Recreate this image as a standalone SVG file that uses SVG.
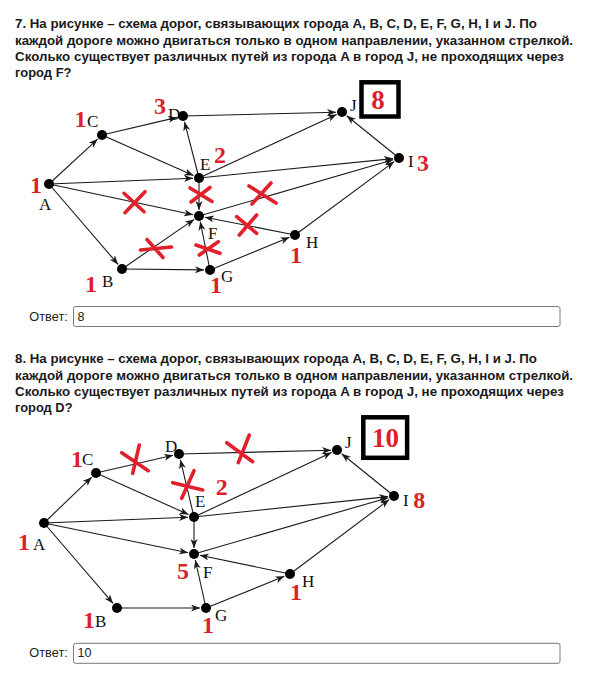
<svg xmlns="http://www.w3.org/2000/svg" width="597" height="679" viewBox="0 0 597 679">
<defs>
<marker id="ah" markerUnits="userSpaceOnUse" markerWidth="10" markerHeight="8" refX="9" refY="3.5" orient="auto">
<path d="M0,0 L9,3.5 L0,7 L2.5,3.5 z" fill="#1a1a1a"/>
</marker>
</defs>
<style>
.q{font-family:"Liberation Sans",Arial,sans-serif;font-weight:bold;font-size:13.5px;fill:#1a1a1a}
.ans{font-family:"Liberation Sans",Arial,sans-serif;font-size:12.5px;fill:#222}
.box{fill:#fff;stroke:#7a7a7a;stroke-width:1}
.e{stroke:#1a1a1a;stroke-width:1.1;fill:none;marker-end:url(#ah)}
.n{fill:#000}
.lb{font-family:"Liberation Serif","Times New Roman",serif;font-size:17px;fill:#111}
.r{font-family:"Liberation Serif","Times New Roman",serif;font-weight:bold;font-size:24px;fill:#dc1f2b;text-anchor:middle}
.rb{font-family:"Liberation Serif","Times New Roman",serif;font-weight:bold;font-size:27px;fill:#dc1f2b;text-anchor:middle}
.x{stroke:#e0202b;stroke-width:3.6;stroke-linecap:round;fill:none}
.frame{fill:#fff;stroke:#000;stroke-width:4.5}
</style>
<rect width="597" height="679" fill="#fff"/>

<g id="question7">
<text class="q" x="15" y="28.3" textLength="522" lengthAdjust="spacingAndGlyphs">7. На рисунке – схема дорог, связывающих города A, B, C, D, E, F, G, H, I и J. По</text>
<text class="q" x="15" y="44.6" textLength="558" lengthAdjust="spacingAndGlyphs">каждой дороге можно двигаться только в одном направлении, указанном стрелкой.</text>
<text class="q" x="15" y="61" textLength="549" lengthAdjust="spacingAndGlyphs">Сколько существует различных путей из города A в город J, не проходящих через</text>
<text class="q" x="15" y="77.3" textLength="56.5" lengthAdjust="spacingAndGlyphs">город F?</text>
</g>

<g id="diagram1-connectors">
<line class="e" x1="49" y1="184" x2="97.6" y2="139.1"/>
<line class="e" x1="49" y1="184" x2="193" y2="178.2"/>
<line class="e" x1="49" y1="184" x2="193.1" y2="214.7"/>
<line class="e" x1="49" y1="184" x2="118.1" y2="264.4"/>
<line class="e" x1="102" y1="135" x2="177.2" y2="117.4"/>
<line class="e" x1="102" y1="135" x2="193.5" y2="175.6"/>
<line class="e" x1="199" y1="178" x2="184.5" y2="121.8"/>
<line class="e" x1="199" y1="178" x2="336.6" y2="114.5"/>
<line class="e" x1="199" y1="178" x2="393" y2="158.6"/>
<line class="e" x1="199" y1="178" x2="199" y2="210"/>
<line class="e" x1="183" y1="116" x2="336" y2="112.2"/>
<line class="e" x1="122" y1="269" x2="194.1" y2="219.4"/>
<line class="e" x1="122" y1="269" x2="204" y2="269.9"/>
<line class="e" x1="210" y1="270" x2="200.2" y2="221.5"/>
<line class="e" x1="210" y1="270" x2="289.5" y2="237.3"/>
<line class="e" x1="295" y1="235" x2="204.9" y2="217.2"/>
<line class="e" x1="199" y1="216" x2="393.2" y2="159.7"/>
<line class="e" x1="295" y1="235" x2="394.2" y2="161.6"/>
<line class="e" x1="399" y1="158" x2="346.7" y2="115.8"/>
</g>

<g id="d1-A"><circle class="n" cx="49" cy="184" r="5"/><text class="lb" x="39" y="210">A</text><text class="r" x="36" y="192.7">1</text></g>
<g id="d1-B"><circle class="n" cx="122" cy="269" r="5"/><text class="lb" x="102" y="287">B</text><text class="r" x="91" y="291.7">1</text></g>
<g id="d1-C"><circle class="n" cx="102" cy="135" r="5"/><text class="lb" x="87" y="127">C</text><text class="r" x="80.5" y="126.7">1</text></g>
<g id="d1-D"><circle class="n" cx="183" cy="116" r="5"/><text class="lb" x="168" y="120">D</text><text class="r" x="160" y="114.3">3</text></g>
<g id="d1-E"><circle class="n" cx="199" cy="178" r="5"/><text class="lb" x="200" y="170">E</text><text class="r" x="220" y="163.3">2</text></g>
<g id="d1-F"><circle class="n" cx="199" cy="216" r="5"/><text class="lb" x="208" y="239">F</text></g>
<g id="d1-G"><circle class="n" cx="210" cy="270" r="5"/><text class="lb" x="221" y="282">G</text><text class="r" x="216" y="293.3">1</text></g>
<g id="d1-H"><circle class="n" cx="295" cy="235" r="5"/><text class="lb" x="306" y="248">H</text><text class="r" x="296" y="263.3">1</text></g>
<g id="d1-I"><circle class="n" cx="399" cy="158" r="5"/><text class="lb" x="408" y="167">I</text><text class="r" x="423" y="170.7">3</text></g>
<g id="d1-J"><circle class="n" cx="342" cy="112" r="5"/><text class="lb" x="350" y="111">J</text></g>
<g id="d1-answer"><rect class="frame" x="361.5" y="82.3" width="37" height="34.2"/><text class="rb" x="378" y="109.3">8</text></g>

<g id="d1-crosses">
<path class="x" d="M124,193.3 L144,211.7 M145,191.7 L125,212.7"/>
<path class="x" d="M190,188 L212,201.5 M191,202 L210,187.5"/>
<path class="x" d="M249,186 L276,203 M252,204 L271,183"/>
<path class="x" d="M236.7,216.7 L256.7,233.3 M256.7,215 L239.3,235"/>
<path class="x" d="M140.5,250 L171.5,247 M147,239.5 L163,257.5"/>
<path class="x" d="M196,245 L220,253.3 M199.3,255 L218.3,241.7"/>
</g>

<g id="answer7">
<text class="ans" x="29.3" y="321" textLength="38.5" lengthAdjust="spacingAndGlyphs">Ответ:</text>
<rect class="box" x="73.5" y="306.5" width="486.5" height="20" rx="2"/>
<text class="ans" x="77.5" y="321">8</text>
</g>

<g id="question8">
<text class="q" x="15" y="363.3" textLength="522" lengthAdjust="spacingAndGlyphs">8. На рисунке – схема дорог, связывающих города A, B, C, D, E, F, G, H, I и J. По</text>
<text class="q" x="15" y="379.7" textLength="558" lengthAdjust="spacingAndGlyphs">каждой дороге можно двигаться только в одном направлении, указанном стрелкой.</text>
<text class="q" x="15" y="396" textLength="549" lengthAdjust="spacingAndGlyphs">Сколько существует различных путей из города A в город J, не проходящих через</text>
<text class="q" x="15" y="412.3" textLength="57.5" lengthAdjust="spacingAndGlyphs">город D?</text>
</g>

<g id="diagram2-connectors">
<line class="e" x1="44" y1="523" x2="91.7" y2="477.2"/>
<line class="e" x1="44" y1="523" x2="188" y2="517.2"/>
<line class="e" x1="44" y1="523" x2="188.1" y2="552.8"/>
<line class="e" x1="44" y1="523" x2="113.1" y2="603.4"/>
<line class="e" x1="96" y1="473" x2="173.1" y2="455.3"/>
<line class="e" x1="96" y1="473" x2="188.5" y2="514.5"/>
<line class="e" x1="194" y1="517" x2="180.4" y2="459.8"/>
<line class="e" x1="194" y1="517" x2="331.6" y2="452.5"/>
<line class="e" x1="194" y1="517" x2="388" y2="496.6"/>
<line class="e" x1="194" y1="517" x2="194" y2="548"/>
<line class="e" x1="179" y1="454" x2="331" y2="450.2"/>
<line class="e" x1="117" y1="608" x2="200" y2="608"/>
<line class="e" x1="206" y1="608" x2="195.3" y2="560"/>
<line class="e" x1="206" y1="608" x2="284.4" y2="576.3"/>
<line class="e" x1="290" y1="574" x2="199.9" y2="555.2"/>
<line class="e" x1="194" y1="554" x2="388.2" y2="497.7"/>
<line class="e" x1="290" y1="574" x2="389.2" y2="499.6"/>
<line class="e" x1="394" y1="496" x2="341.7" y2="453.8"/>
</g>

<g id="d2-A"><circle class="n" cx="44" cy="523" r="5"/><text class="lb" x="33" y="550">A</text><text class="r" x="24" y="550">1</text></g>
<g id="d2-B"><circle class="n" cx="117" cy="608" r="5"/><text class="lb" x="95" y="627">B</text><text class="r" x="89" y="628.3">1</text></g>
<g id="d2-C"><circle class="n" cx="96" cy="473" r="5"/><text class="lb" x="82" y="465">C</text><text class="r" x="77" y="466.7">1</text></g>
<g id="d2-D"><circle class="n" cx="179" cy="454" r="5"/><text class="lb" x="165" y="452">D</text></g>
<g id="d2-E"><circle class="n" cx="194" cy="517" r="5"/><text class="lb" x="195" y="507">E</text><text class="r" x="221.7" y="495">2</text></g>
<g id="d2-F"><circle class="n" cx="194" cy="554" r="5"/><text class="lb" x="203" y="578">F</text><text class="r" x="183" y="579.3">5</text></g>
<g id="d2-G"><circle class="n" cx="206" cy="608" r="5"/><text class="lb" x="215" y="621">G</text><text class="r" x="208" y="633.3">1</text></g>
<g id="d2-H"><circle class="n" cx="290" cy="574" r="5"/><text class="lb" x="302" y="587">H</text><text class="r" x="296" y="600">1</text></g>
<g id="d2-I"><circle class="n" cx="394" cy="496" r="5"/><text class="lb" x="403" y="506">I</text><text class="r" x="419.3" y="508.3">8</text></g>
<g id="d2-J"><circle class="n" cx="337" cy="450" r="5"/><text class="lb" x="345" y="448">J</text></g>
<g id="d2-answer"><rect class="frame" x="363.3" y="417.3" width="43.8" height="40.5"/><text class="rb" x="385.5" y="446.7">10</text></g>

<g id="d2-crosses">
<path class="x" d="M121.7,452.7 L148.3,470.7 M139.3,445 L132.7,473.3"/>
<path class="x" d="M226.7,442.7 L252.7,461.7 M249.3,435 L238.3,462.7"/>
<path class="x" d="M172.7,482.7 L202.7,490 M194,470.7 L181.7,498.3"/>
</g>

<g id="answer8">
<text class="ans" x="29.3" y="657.3" textLength="38.5" lengthAdjust="spacingAndGlyphs">Ответ:</text>
<rect class="box" x="73.5" y="643.3" width="486.5" height="20" rx="2"/>
<text class="ans" x="77.5" y="657.3">10</text>
</g>
</svg>
